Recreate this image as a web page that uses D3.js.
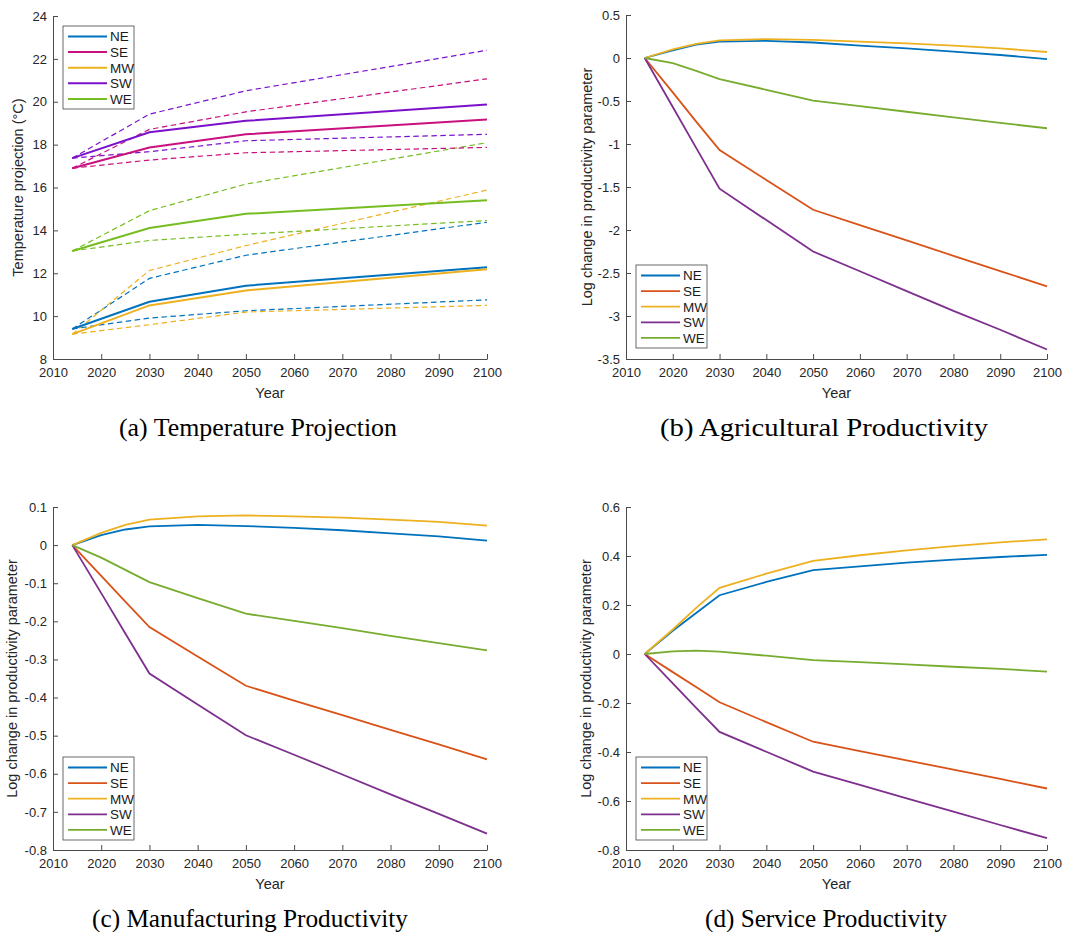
<!DOCTYPE html>
<html>
<head>
<meta charset="utf-8">
<script src="https://cdn.jsdelivr.net/npm/d3@7"></script>
<style>
  html, body { margin: 0; padding: 0; background: #fff; }
  svg { display: block; }
  .tick text { font-family: "Liberation Sans", Arial, sans-serif; font-size: 13px; fill: #262626; }
  .axis path, .axis line { stroke: #4a4a4a; }
  .lbl { font-family: "Liberation Sans", Arial, sans-serif; font-size: 14.5px; fill: #262626; }
  .cap { font-family: "Liberation Serif", "Times New Roman", serif; font-size: 25px; fill: #000; }
  .leg { font-family: "Liberation Sans", Arial, sans-serif; font-size: 13.5px; fill: #1a1a1a; }
</style>
</head>
<body>
<div id="chart"></div>
<script>
const regions = ['NE', 'SE', 'MW', 'SW', 'WE'];
const xTicks = [2010, 2020, 2030, 2040, 2050, 2060, 2070, 2080, 2090, 2100];

// (a) temperature: central projection plus high / low bands, per region
const tempYears = [2014, 2030, 2050, 2100];
const tempMid = [
  [9.4, 10.67, 11.42, 12.28],
  [16.9, 17.87, 18.48, 19.17],
  [9.16, 10.5, 11.2, 12.19],
  [17.37, 18.58, 19.11, 19.87],
  [13.04, 14.11, 14.77, 15.4]
];
const tempHigh = [
  [9.4, 11.76, 12.84, 14.38],
  [16.9, 18.71, 19.53, 21.07],
  [9.16, 12.13, 13.29, 15.88],
  [17.37, 19.42, 20.51, 22.4],
  [13.04, 14.92, 16.16, 18.09]
];
const tempLow = [
  [9.4, 9.91, 10.25, 10.76],
  [16.9, 17.28, 17.62, 17.87],
  [9.16, 9.6, 10.19, 10.5],
  [17.37, 17.67, 18.18, 18.48],
  [13.04, 13.53, 13.82, 14.46]
];
const tempTicks = [8, 10, 12, 14, 16, 18, 20, 22, 24];

// (b)-(d) productivity, log change
const prodYears = [2014, 2020, 2025, 2030, 2040, 2050, 2060, 2070, 2080, 2090, 2100];
const agri = [
  [0, 0.09, 0.155, 0.19, 0.2, 0.18, 0.145, 0.112, 0.074, 0.035, -0.012],
  [0, -0.40, -0.74, -1.07, -1.418, -1.765, -1.943, -2.121, -2.30, -2.478, -2.656],
  [0, 0.10, 0.165, 0.205, 0.22, 0.21, 0.19, 0.17, 0.145, 0.112, 0.07],
  [0, -0.57, -1.045, -1.52, -1.885, -2.25, -2.48, -2.71, -2.94, -3.16, -3.39],
  [0, -0.06, -0.15, -0.245, -0.37, -0.495, -0.56, -0.625, -0.69, -0.755, -0.817]
];
const agriTicks = [-3.5, -3, -2.5, -2, -1.5, -1, -0.5, 0, 0.5];

const manu = [
  [0, 0.026, 0.041, 0.049, 0.053, 0.05, 0.045, 0.039, 0.031, 0.023, 0.012],
  [0, -0.081, -0.148, -0.215, -0.292, -0.369, -0.408, -0.446, -0.485, -0.523, -0.562],
  [0, 0.032, 0.053, 0.067, 0.0755, 0.078, 0.0755, 0.072, 0.067, 0.061, 0.051],
  [0, -0.126, -0.232, -0.337, -0.418, -0.499, -0.55, -0.602, -0.654, -0.705, -0.757],
  [0, -0.033, -0.065, -0.097, -0.139, -0.18, -0.199, -0.218, -0.238, -0.257, -0.276]
];
const manuTicks = [-0.8, -0.7, -0.6, -0.5, -0.4, -0.3, -0.2, -0.1, 0, 0.1];

const serv = [
  [0, 0.095, 0.167, 0.24, 0.294, 0.342, 0.358, 0.373, 0.385, 0.396, 0.405],
  [0, -0.074, -0.135, -0.197, -0.278, -0.358, -0.396, -0.434, -0.472, -0.51, -0.549],
  [0, 0.10, 0.188, 0.27, 0.328, 0.38, 0.403, 0.423, 0.44, 0.456, 0.468],
  [0, -0.12, -0.22, -0.318, -0.399, -0.48, -0.534, -0.589, -0.643, -0.698, -0.752],
  [0, 0.011, 0.014, 0.0095, -0.007, -0.025, -0.033, -0.042, -0.052, -0.061, -0.072]
];
const servTicks = [-0.8, -0.6, -0.4, -0.2, 0, 0.2, 0.4, 0.6];

const tempColors = ['#0072BD', '#C8107E', '#EDB120', '#7A10CC', '#76BD22'];
const prodColors = ['#0072BD', '#D95319', '#EDB120', '#7E2F8E', '#77AC30'];

const svg = d3.select('#chart').append('svg')
  .attr('width', 1080).attr('height', 932);

const fmt = d => String(+d.toFixed(2));

function drawPanel(p) {
  const x = d3.scaleLinear().domain([2010, 2100]).range([p.left, p.right]);
  const y = d3.scaleLinear().domain(d3.extent(p.yTicks)).range([p.bottom, p.top]);
  const g = svg.append('g');

  g.append('g').attr('class', 'axis')
    .attr('transform', `translate(0,${p.bottom})`)
    .call(d3.axisBottom(x).tickValues(xTicks).tickFormat(d => d)
      .tickSizeInner(-5).tickSizeOuter(0).tickPadding(9));

  g.append('g').attr('class', 'axis')
    .attr('transform', `translate(${p.left},0)`)
    .call(d3.axisLeft(y).tickValues(p.yTicks).tickFormat(fmt)
      .tickSizeInner(-5).tickSizeOuter(0).tickPadding(6));

  const line = d3.line().x(d => x(d[0])).y(d => y(d[1]));

  p.series.forEach(s => {
    s.values.forEach((vals, i) => {
      g.append('path')
        .datum(vals.map((v, k) => [s.years[k], v]))
        .attr('d', line)
        .attr('fill', 'none')
        .attr('stroke', p.colors[i])
        .attr('stroke-width', s.width)
        .attr('stroke-dasharray', s.dash || null);
    });
  });

  g.append('text').attr('class', 'lbl')
    .attr('x', (p.left + p.right) / 2).attr('y', p.bottom + 39)
    .attr('text-anchor', 'middle').text('Year');

  g.append('text').attr('class', 'lbl')
    .attr('transform', `translate(${p.ylabX},${(p.top + p.bottom) / 2}) rotate(-90)`)
    .attr('text-anchor', 'middle').attr('dy', '0.35em').text(p.ylabel);

  g.append('text').attr('class', 'cap')
    .attr('x', p.capX).attr('y', p.bottom + 77)
    .attr('text-anchor', 'middle')
    .attr('textLength', p.capW).attr('lengthAdjust', 'spacingAndGlyphs')
    .text(p.caption);

  // legend
  const lg = g.append('g').attr('transform', `translate(${p.legX},${p.legY})`);
  lg.append('rect').attr('width', 71).attr('height', 83)
    .attr('fill', '#fff').attr('stroke', '#444').attr('stroke-width', 0.8);
  regions.forEach((r, i) => {
    const yy = 10.5 + i * 15.6;
    lg.append('line').attr('x1', 5).attr('x2', 44).attr('y1', yy).attr('y2', yy)
      .attr('stroke', p.colors[i]).attr('stroke-width', p.legW);
    lg.append('text').attr('class', 'leg').attr('x', 47).attr('y', yy)
      .attr('dy', '0.36em').text(r);
  });
}

drawPanel({
  left: 53, right: 487, top: 16, bottom: 359,
  yTicks: tempTicks, colors: tempColors, legW: 2,
  series: [
    { years: tempYears, values: tempHigh, width: 1.2, dash: '5.5,3.5' },
    { years: tempYears, values: tempLow, width: 1.2, dash: '5.5,3.5' },
    { years: tempYears, values: tempMid, width: 2 }
  ],
  ylabel: 'Temperature projection (°C)', ylabX: 18,
  caption: '(a) Temperature Projection', capX: 258, capW: 278,
  legX: 63, legY: 26
});

drawPanel({
  left: 626, right: 1047, top: 15, bottom: 359,
  yTicks: agriTicks, colors: prodColors, legW: 1.8,
  series: [{ years: prodYears, values: agri, width: 1.8 }],
  ylabel: 'Log change in productivity parameter', ylabX: 587,
  caption: '(b) Agricultural Productivity', capX: 824, capW: 328,
  legX: 636, legY: 265
});

drawPanel({
  left: 53, right: 487, top: 507, bottom: 850,
  yTicks: manuTicks, colors: prodColors, legW: 1.8,
  series: [{ years: prodYears, values: manu, width: 1.8 }],
  ylabel: 'Log change in productivity parameter', ylabX: 12,
  caption: '(c) Manufacturing Productivity', capX: 250, capW: 316,
  legX: 63, legY: 757
});

drawPanel({
  left: 626, right: 1047, top: 507, bottom: 850,
  yTicks: servTicks, colors: prodColors, legW: 1.8,
  series: [{ years: prodYears, values: serv, width: 1.8 }],
  ylabel: 'Log change in productivity parameter', ylabX: 586,
  caption: '(d) Service Productivity', capX: 826, capW: 242,
  legX: 636, legY: 757
});
</script>
</body>
</html>
